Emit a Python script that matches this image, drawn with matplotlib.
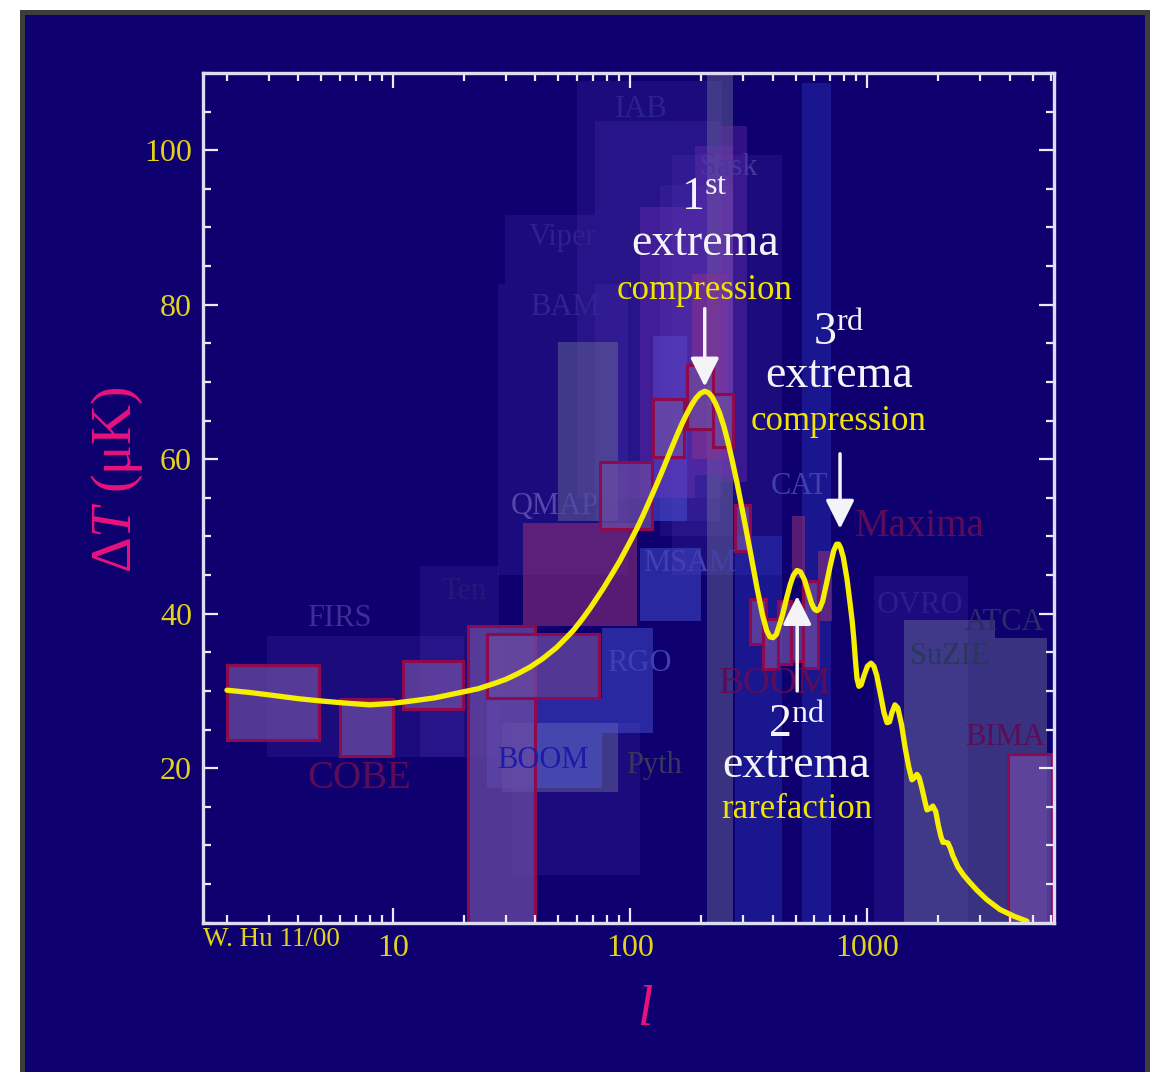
import numpy as np
import matplotlib
matplotlib.use("Agg")
import matplotlib.pyplot as plt
from matplotlib.patches import Rectangle
from matplotlib.ticker import FixedLocator, MultipleLocator, LogLocator, NullFormatter, FixedFormatter
from matplotlib.colors import to_rgba

plt.rcParams['font.family'] = ['Liberation Serif', 'DejaVu Serif']
plt.rcParams['mathtext.fontset'] = 'custom'
plt.rcParams['mathtext.rm'] = 'Liberation Serif'
plt.rcParams['mathtext.it'] = 'Liberation Serif:italic'

# theory curve (multipole l, Delta T in micro-K)
curve_l = [2, 2.5, 3, 4, 5, 6.5, 8, 10, 12, 15, 18.6, 23, 27, 30, 34, 38, 43, 49, 54, 58,
           63, 68, 77, 84, 91, 99, 107, 114, 121, 130, 138, 148, 158, 166, 174, 182, 190,
           198, 207, 215, 222, 230, 239, 249, 259, 270, 283, 300, 321, 344, 363, 378, 390,
           402, 415, 440, 460, 475, 490, 507, 525, 545, 565, 585, 600, 615, 630, 650, 675,
           700, 725, 745, 760, 775, 795, 824, 850, 867, 880, 892, 908, 925, 945, 975, 1005,
           1040, 1070, 1100, 1140, 1180, 1215, 1245, 1275, 1313, 1350, 1400, 1450, 1500,
           1548, 1590, 1625, 1660, 1700, 1750, 1791, 1850, 1897, 1950, 2000, 2050, 2092,
           2150, 2197, 2250, 2300, 2421, 2550, 2700, 2912, 3200, 3640, 4200, 4730]
curve_dT = [30.1, 29.8, 29.5, 29.0, 28.7, 28.4, 28.2, 28.4, 28.7, 29.1, 29.7, 30.3, 31.0,
            31.5, 32.3, 33.1, 34.2, 35.6, 36.9, 37.9, 39.3, 40.7, 43.2, 45.1, 46.9, 49.0,
            51.0, 52.8, 54.6, 56.8, 58.7, 61.0, 63.1, 64.6, 65.9, 67.0, 67.9, 68.5, 68.8,
            68.6, 68.1, 67.2, 66.0, 64.3, 62.3, 59.9, 57.0, 53.0, 48.3, 43.3, 39.8, 37.8,
            37.0, 36.9, 37.3, 39.8, 42.2, 43.8, 45.0, 45.6, 45.4, 44.4, 42.8, 41.3, 40.6,
            40.4, 40.6, 41.6, 43.9, 46.2, 48.2, 49.0, 49.0, 48.5, 47.3, 44.5, 41.2, 39.0,
            36.8, 34.4, 31.6, 30.6, 30.8, 32.1, 33.2, 33.6, 33.2, 32.0, 29.6, 27.2, 25.9,
            26.0, 27.2, 28.2, 27.8, 25.6, 22.6, 20.2, 18.5, 18.8, 19.2, 18.8, 17.6, 15.9,
            14.6, 14.8, 15.1, 14.4, 12.6, 11.2, 10.4, 10.4, 10.3, 9.6, 8.7, 7.2, 6.2, 5.3,
            4.2, 3.0, 1.7, 0.8, 0.2]

# measurement boxes: l range, Delta T range, kind
box_l_lo = [2.96, 13, 29.7, 27.7, 59.8, 71, 150, 134, 1070, 31.8,
            211, 49.7, 28.8, 1430, 3480,
            530, 277,
            35.4, 183, 482, 622,
            24.9, 76, 125, 110,
            239, 188, 110,
            2.0, 6.0, 11, 20.7, 24.9, 75, 125, 174, 224, 277,
            321, 366, 421, 477, 537, 3930]
box_l_hi = [20, 28, 71, 98, 244, 239, 437, 272, 2680, 110,
            272, 89, 89, 3480, 5745,
            705, 437,
            107, 260, 548, 712,
            76, 125, 174, 200,
            313, 272, 188,
            4.9, 10, 19.8, 39.7, 74, 124, 170, 224, 272, 320,
            374, 421, 477, 537, 622, 6050]
box_dT_lo = [21.4, 21.4, 82.7, 45, 55, 52, 45, 50, 0, 6.2,
             0, 52, 16.9, 0, 0,
             0, 0,
             38.4, 60, 44.6, 39.1,
             17.5, 24.5, 52, 39,
             57, 58, 55,
             23.6, 21.6, 27.7, 0, 29.1, 51.0, 60.3, 63.9, 61.6, 48.1,
             36.1, 32.9, 33.5, 33.9, 33.0, 0]
box_dT_hi = [37.1, 46.2, 91.6, 82.7, 109, 103.8, 99.4, 95.5, 44.9, 25.8,
             112, 75.2, 25.8, 39.2, 36.9,
             108.7, 50,
             51.7, 84, 52.6, 48.1,
             29.1, 38.1, 76, 48.5,
             103.2, 100.6, 92.6,
             33.3, 29.0, 33.9, 38.4, 37.4, 59.7, 67.8, 72.2, 68.5, 54.1,
             41.9, 39.3, 41.6, 39.1, 44.2, 21.9]
box_kind = ['faint'] * 10 + ['grey'] * 5 + ['bluefaint'] * 2 + ['magenta'] * 4 + \
           ['blue'] * 4 + ['purple'] * 3 + ['edge'] * 16

# experiment names and where they are written (l, Delta T)
exp_names = ['COBE', 'FIRS', 'Ten', 'BOOM', 'Pyth', 'QMAP', 'RGO', 'Viper', 'BAM', 'IAB',
             'Sask', 'CAT', 'MSAM', 'Maxima', 'BOOM', 'OVRO', 'ATCA', 'SuZIE', 'BIMA']
exp_l = [7.26, 5.97, 20.1, 43, 127, 48.3, 110, 52.1, 53.2, 112,
         262, 521, 179, 1675, 409, 1675, 3820, 2240, 3820]
exp_dT = [18.7, 39.4, 42.9, 21.0, 20.4, 53.9, 33.6, 88.7, 79.7, 105.3,
          97.8, 56.5, 46.5, 51.3, 30.9, 41.0, 38.8, 34.5, 24.0]

navy = '#0f006f'
kind_style = {
    'faint':     dict(fc=to_rgba('#5a40c0', 0.18), ec='none', lw=0),
    'purple':    dict(fc=to_rgba('#7333b3', 0.35), ec='none', lw=0),
    'magenta':   dict(fc=to_rgba('#933378', 0.55), ec='none', lw=0),
    'blue':      dict(fc=to_rgba('#4d59dd', 0.45), ec='none', lw=0),
    'bluefaint': dict(fc=to_rgba('#3550e6', 0.28), ec='none', lw=0),
    'grey':      dict(fc=to_rgba('#737899', 0.42), ec='none', lw=0),
    'edge':      dict(fc=to_rgba('#6a4aa2', 0.75), ec='#8e0a4e', lw=2.2),
}
label_color = {'COBE': '#5c0c58', 'Maxima': '#5c0c58', 'BIMA': '#5c0c58',
               'FIRS': '#3e2e98', 'Ten': '#251878', 'Pyth': '#38385e', 'QMAP': '#5446aa',
               'RGO': '#4040b4', 'Viper': '#2e2090', 'BAM': '#302494', 'IAB': '#2c2092',
               'Sask': '#48369e', 'CAT': '#4040aa', 'MSAM': '#4440ae', 'OVRO': '#2c1e90',
               'ATCA': '#2c2c66', 'SuZIE': '#283858'}
label_size = {'COBE': 28, 'Maxima': 28}

fig = plt.figure(figsize=(11.56, 10.72), dpi=100)
fig.patch.set_facecolor('white')
fig.add_artist(Rectangle((20 / 1156, 0), 1130 / 1156, 1 - 10 / 1072,
                         transform=fig.transFigure, fc='#3c3c3c', ec='none', zorder=-10))
fig.add_artist(Rectangle((25 / 1156, 0), 1120 / 1156, 1 - 15 / 1072,
                         transform=fig.transFigure, fc=navy, ec='none', zorder=-9))

ax = fig.add_axes([203 / 1156, 1 - 922.7 / 1072, 851 / 1156, 849.7 / 1072])
ax.set_facecolor(navy)
ax.set_xscale('log')
ax.set_xlim(1.585, 6150)
ax.set_ylim(0, 110)

# boxes
for lo, hi, b, t, k in zip(box_l_lo, box_l_hi, box_dT_lo, box_dT_hi, box_kind):
    st = kind_style[k]
    ax.bar(lo, t - b, width=hi - lo, bottom=b, align='edge', color=st['fc'],
           edgecolor=st['ec'], linewidth=st['lw'], zorder=1)

for i, (name, l, dT) in enumerate(zip(exp_names, exp_l, exp_dT)):
    col = label_color.get(name, '#5c0c58')
    size = label_size.get(name, 22)
    if name == 'BOOM' and i == 3:
        col = '#1c1ca8'
    if name == 'BOOM' and i == 14:
        col, size = '#5c0c58', 27
    ax.text(l, dT, name, color=col, fontsize=size, ha='center', va='center', zorder=2)

# theory curve
ax.plot(curve_l, curve_dT, color='#f7ef00', lw=3.8, solid_joinstyle='round',
        solid_capstyle='round', zorder=3, clip_on=True)

# annotations
white = '#f4f4f8'
yellow = '#f0e400'
ax.text(207, 92.3, r'1$^{\mathrm{st}}$', color=white, fontsize=33, ha='center', va='baseline', zorder=5)
ax.text(207, 86.4, 'extrema', color=white, fontsize=33, ha='center', va='baseline', zorder=5)
ax.text(207, 80.7, 'compression', color=yellow, fontsize=25, ha='center', va='baseline', zorder=5)

ax.text(760, 74.8, r'3$^{\mathrm{rd}}$', color=white, fontsize=33, ha='center', va='baseline', zorder=5)
ax.text(760, 69.4, 'extrema', color=white, fontsize=33, ha='center', va='baseline', zorder=5)
ax.text(760, 63.8, 'compression', color=yellow, fontsize=25, ha='center', va='baseline', zorder=5)

ax.text(505, 24.1, r'2$^{\mathrm{nd}}$', color=white, fontsize=33, ha='center', va='baseline', zorder=5)
ax.text(505, 18.8, 'extrema', color=white, fontsize=33, ha='center', va='baseline', zorder=5)
ax.text(505, 13.5, 'rarefaction', color=yellow, fontsize=25, ha='center', va='baseline', zorder=5)

arrow = dict(arrowstyle='-|>', color=white, lw=2.5, mutation_scale=44, shrinkA=0, shrinkB=0)
ax.annotate('', xy=(207, 69.4), xytext=(207, 79.5), arrowprops=arrow, zorder=5)
ax.annotate('', xy=(770, 51.0), xytext=(770, 60.7), arrowprops=arrow, zorder=5)
ax.annotate('', xy=(508, 42.3), xytext=(508, 30.0), arrowprops=arrow, zorder=5)

# axes, ticks
for s in ax.spines.values():
    s.set_color('#dcdcf2')
    s.set_linewidth(2.4)
    s.set_zorder(6)

ax.xaxis.set_major_locator(FixedLocator([10, 100, 1000]))
ax.xaxis.set_major_formatter(FixedFormatter(['10', '100', '1000']))
ax.xaxis.set_minor_locator(LogLocator(base=10, subs=np.arange(2, 10)))
ax.xaxis.set_minor_formatter(NullFormatter())
ax.yaxis.set_major_locator(FixedLocator([20, 40, 60, 80, 100]))
ax.yaxis.set_minor_locator(MultipleLocator(5))

ax.tick_params(which='both', direction='in', top=True, right=True, color='#ececf8',
               labelcolor='#e2d21e', labelsize=23, width=1.6)
ax.tick_params(which='major', length=11, pad=8)
ax.tick_params(which='minor', length=5.5)

ax.set_xlabel('$l$', color='#e8127e', fontsize=40)
ax.set_ylabel(r'Δ$T$ (μK)', color='#e8127e', fontsize=40)
ax.xaxis.set_label_coords(0.519, -0.073)
ax.yaxis.set_label_coords(-0.068, 0.521)

fig.text(203 / 1156, 1 - 940 / 1072, 'W. Hu 11/00', color='#e2d21e', fontsize=19.5,
         ha='left', va='center')

fig.savefig('out.png', dpi=100, facecolor=fig.get_facecolor())
